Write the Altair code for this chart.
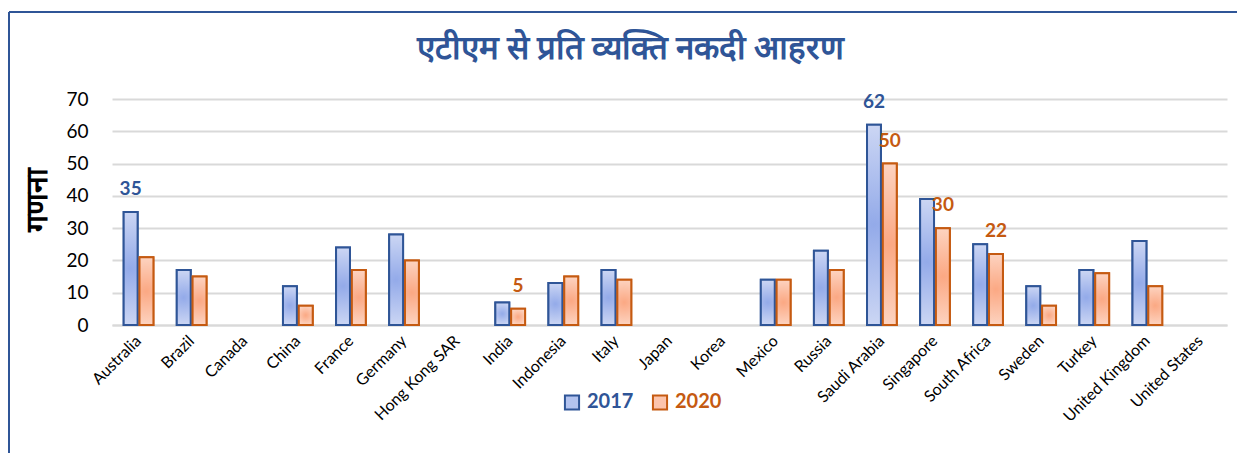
import altair as alt
import pandas as pd

countries = ["Australia", "Brazil", "Canada", "China", "France", "Germany",
             "Hong Kong SAR", "India", "Indonesia", "Italy", "Japan", "Korea",
             "Mexico", "Russia", "Saudi Arabia", "Singapore", "South Africa",
             "Sweden", "Turkey", "United Kingdom", "United States"]
v2017 = [35, 17, None, 12, 24, 28, None, 7, 13, 17, None, None,
         14, 23, 62, 39, 25, 12, 17, 26, None]
v2020 = [21, 15, None, 6, 17, 20, None, 5, 15, 14, None, None,
         14, 17, 50, 30, 22, 6, 16, 12, None]
years = ["2017", "2020"]

label_country = ["Australia", "Saudi Arabia", "Saudi Arabia", "Singapore", "South Africa", "India"]
label_year = ["2017", "2017", "2020", "2020", "2020", "2020"]
label_value = [35, 62, 50, 30, 22, 5]

BLUE = "#2F5597"
ORANGE = "#C55A11"

rows = []
for c, a, b in zip(countries, v2017, v2020):
    rows.append({"country": c, "year": "2017", "value": a})
    rows.append({"country": c, "year": "2020", "value": b})
df = pd.DataFrame(rows)
df = df.dropna()

lab = pd.DataFrame({"country": label_country, "year": label_year, "value": label_value})

grad_blue = {"gradient": "radial", "x1": 0.5, "y1": 0.5, "r1": 0, "x2": 0.5, "y2": 0.5, "r2": 0.75,
             "stops": [{"offset": 0, "color": "#93AAE9"}, {"offset": 1, "color": "#E8ECF9"}]}
grad_orange = {"gradient": "radial", "x1": 0.5, "y1": 0.5, "r1": 0, "x2": 0.5, "y2": 0.5, "r2": 0.75,
               "stops": [{"offset": 0, "color": "#FBA883"}, {"offset": 1, "color": "#FEE9DF"}]}

x_axis = alt.Axis(title=None, labelAngle=-45, labelAlign="right", labelBaseline="middle",
                  labelFontSize=16, labelColor="#000000", labelPadding=13, ticks=False,
                  domain=True, domainColor="#d9d9d9", domainWidth=2, labelFont="Lato")
y_axis = alt.Axis(title="गणना", values=[0, 10, 20, 30, 40, 50, 60, 70],
                  labelFontSize=19, labelColor="#000000", labelPadding=24,
                  ticks=False, domain=False, gridColor="#d9d9d9", gridWidth=2,
                  titleFontSize=30, titleFontWeight="bold", titleColor="#000000",
                  titlePadding=13, titleY=100, labelFont="Lato", labelOverlap=False)

x_enc = alt.X("country:N", scale=alt.Scale(domain=countries, paddingInner=0.44, paddingOuter=0.22),
              sort=countries, axis=x_axis)
xo_enc = alt.XOffset("year:N", scale=alt.Scale(domain=years, paddingInner=0.12))
y_enc = alt.Y("value:Q", scale=alt.Scale(domain=[0, 70], nice=False), axis=y_axis)

legend_opts = dict(title=None, orient="none", legendX=450, legendY=293,
                   direction="horizontal", symbolType="square", symbolSize=200,
                   symbolStrokeWidth=2, labelFontSize=20, labelFontWeight="bold",
                   labelFont="Lato", columnPadding=14, labelOffset=5, padding=0,
                   labelColor=alt.ExprRef("datum.value == '2017' ? '%s' : '%s'" % (BLUE, ORANGE)),
                   symbolOpacity=1)

base_bars = alt.Chart(df).mark_bar(strokeWidth=2).encode(
    x=x_enc,
    xOffset=xo_enc,
    y=y_enc,
    stroke=alt.Stroke("year:N", scale=alt.Scale(domain=years, range=[BLUE, ORANGE]),
                      legend=alt.Legend(**legend_opts)),
    fill=alt.Fill("year:N", scale=alt.Scale(domain=years, range=["#B3C3EF", "#FCC4AC"]),
                  legend=alt.Legend(**legend_opts)),
)

grad_bars = alt.Chart(df).mark_bar(strokeWidth=2).encode(
    x=x_enc,
    xOffset=xo_enc,
    y=y_enc,
    stroke=alt.Stroke("year:N", legend=None),
    fill=alt.condition(alt.datum.year == "2017", alt.value(grad_blue), alt.value(grad_orange)),
)

labels = alt.Chart(lab).mark_text(fontSize=19, fontWeight="bold", baseline="alphabetic", dy=-17, font="Lato").encode(
    x=x_enc,
    xOffset=xo_enc,
    y=y_enc,
    color=alt.Color("year:N", scale=alt.Scale(domain=years, range=[BLUE, ORANGE]), legend=None),
    text=alt.Text("value:Q"),
)

one = pd.DataFrame({"k": [0]})
border_top = alt.Chart(one).mark_rule(color=BLUE, strokeWidth=2).encode(
    x=alt.value(-103), x2=alt.value(1140), y=alt.value(-87))
border_left = alt.Chart(one).mark_rule(color=BLUE, strokeWidth=2).encode(
    x=alt.value(-103), y=alt.value(-87), y2=alt.value(400))

chart = alt.layer(base_bars, grad_bars, labels, border_top, border_left).properties(
    width=1115, height=226,
    title=alt.TitleParams("एटीएम से प्रति व्यक्ति नकदी आहरण", fontSize=33, fontWeight="bold",
                          color=BLUE, anchor="middle", offset=-55, dx=-39, font="Lato"),
    autosize=alt.AutoSizeParams(type="none"),
    padding={"left": 104, "top": 91, "right": 10, "bottom": 128},
).configure(font="Lato").configure_view(stroke=None)

chart.save("out.html", embed_options={"renderer": "svg", "actions": False})
